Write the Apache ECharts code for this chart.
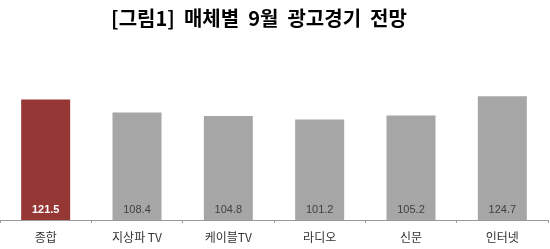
<!DOCTYPE html>
<html><head><meta charset="utf-8">
<script src="https://cdn.jsdelivr.net/npm/echarts@6/dist/echarts.min.js"></script>
<style>html,body{margin:0;padding:0;background:#fff}#c{width:550px;height:249px}</style>
</head><body><div id="c"></div>
<script>
var titleText = '[그림1]  매체별  9월  광고경기  전망';
var categories = ['종합', '지상파 TV', '케이블TV', '라디오', '신문', '인터넷'];
var values = [121.5, 108.4, 104.8, 101.2, 105.2, 124.7];
var highlightIndex = 0;

var chart = echarts.init(document.getElementById('c'), null, {renderer: 'canvas'});
var data = values.map(function (v, i) {
  var hi = i === highlightIndex;
  return {
    value: v,
    itemStyle: {color: hi ? '#953735' : '#a6a6a6'},
    label: hi ? {color: '#ffffff', fontWeight: 'bold'} : {color: '#404040', fontWeight: 'normal'}
  };
});
chart.setOption({
  animation: false,
  title: {
    text: titleText, left: 254, top: 3, textAlign: 'center',
    textStyle: {fontSize: 20, fontWeight: 'bold', color: '#000', fontFamily: 'Noto Sans CJK KR'}
  },
  grid: {left: -4, right: 2, top: 91, bottom: 29},
  xAxis: {
    type: 'category', data: categories,
    axisLine: {lineStyle: {color: '#999999', width: 1}},
    axisTick: {show: true, length: 3, lineStyle: {color: '#999999'}},
    axisLabel: {margin: 11, fontSize: 12, color: '#333333', fontFamily: 'Noto Sans CJK KR'}
  },
  yAxis: {type: 'value', min: 0, max: 130, show: false, splitLine: {show: false}},
  series: [{
    type: 'bar', data: data, barWidth: 49,
    label: {show: true, position: 'insideBottom', distance: 5, fontSize: 11, fontFamily: 'Arial, Liberation Sans',
      formatter: function (p) { return p.value.toFixed(1); }}
  }]
});
</script></body></html>
